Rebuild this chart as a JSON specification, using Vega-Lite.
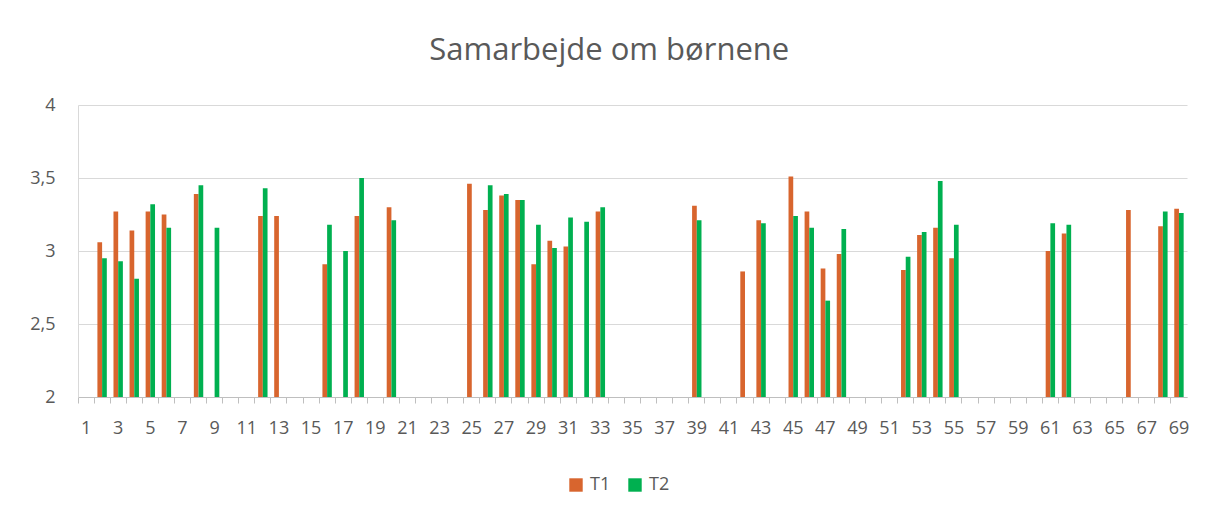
{
  "$schema": "https://vega.github.io/schema/vega-lite/v6.json",
  "width": 1109,
  "height": 292,
  "padding": {"left": 29, "top": 35, "right": 10, "bottom": 10},
  "background": "white",
  "title": {
    "text": "Samarbejde om børnene",
    "font": "Open Sans",
    "fontSize": 31,
    "fontWeight": "normal",
    "color": "#595959",
    "anchor": "middle",
    "frame": "bounds",
    "offset": 29
  },
  "data": {
    "values": [
      {"cat": 2, "series": "T1", "value": 3.06},
      {"cat": 3, "series": "T1", "value": 3.27},
      {"cat": 4, "series": "T1", "value": 3.14},
      {"cat": 5, "series": "T1", "value": 3.27},
      {"cat": 6, "series": "T1", "value": 3.25},
      {"cat": 8, "series": "T1", "value": 3.39},
      {"cat": 12, "series": "T1", "value": 3.24},
      {"cat": 13, "series": "T1", "value": 3.24},
      {"cat": 16, "series": "T1", "value": 2.91},
      {"cat": 18, "series": "T1", "value": 3.24},
      {"cat": 20, "series": "T1", "value": 3.3},
      {"cat": 25, "series": "T1", "value": 3.46},
      {"cat": 26, "series": "T1", "value": 3.28},
      {"cat": 27, "series": "T1", "value": 3.38},
      {"cat": 28, "series": "T1", "value": 3.35},
      {"cat": 29, "series": "T1", "value": 2.91},
      {"cat": 30, "series": "T1", "value": 3.07},
      {"cat": 31, "series": "T1", "value": 3.03},
      {"cat": 33, "series": "T1", "value": 3.27},
      {"cat": 39, "series": "T1", "value": 3.31},
      {"cat": 42, "series": "T1", "value": 2.86},
      {"cat": 43, "series": "T1", "value": 3.21},
      {"cat": 45, "series": "T1", "value": 3.51},
      {"cat": 46, "series": "T1", "value": 3.27},
      {"cat": 47, "series": "T1", "value": 2.88},
      {"cat": 48, "series": "T1", "value": 2.98},
      {"cat": 52, "series": "T1", "value": 2.87},
      {"cat": 53, "series": "T1", "value": 3.11},
      {"cat": 54, "series": "T1", "value": 3.16},
      {"cat": 55, "series": "T1", "value": 2.95},
      {"cat": 61, "series": "T1", "value": 3.0},
      {"cat": 62, "series": "T1", "value": 3.12},
      {"cat": 66, "series": "T1", "value": 3.28},
      {"cat": 68, "series": "T1", "value": 3.17},
      {"cat": 69, "series": "T1", "value": 3.29},
      {"cat": 2, "series": "T2", "value": 2.95},
      {"cat": 3, "series": "T2", "value": 2.93},
      {"cat": 4, "series": "T2", "value": 2.81},
      {"cat": 5, "series": "T2", "value": 3.32},
      {"cat": 6, "series": "T2", "value": 3.16},
      {"cat": 8, "series": "T2", "value": 3.45},
      {"cat": 9, "series": "T2", "value": 3.16},
      {"cat": 12, "series": "T2", "value": 3.43},
      {"cat": 16, "series": "T2", "value": 3.18},
      {"cat": 17, "series": "T2", "value": 3.0},
      {"cat": 18, "series": "T2", "value": 3.5},
      {"cat": 20, "series": "T2", "value": 3.21},
      {"cat": 26, "series": "T2", "value": 3.45},
      {"cat": 27, "series": "T2", "value": 3.39},
      {"cat": 28, "series": "T2", "value": 3.35},
      {"cat": 29, "series": "T2", "value": 3.18},
      {"cat": 30, "series": "T2", "value": 3.02},
      {"cat": 31, "series": "T2", "value": 3.23},
      {"cat": 32, "series": "T2", "value": 3.2},
      {"cat": 33, "series": "T2", "value": 3.3},
      {"cat": 39, "series": "T2", "value": 3.21},
      {"cat": 43, "series": "T2", "value": 3.19},
      {"cat": 45, "series": "T2", "value": 3.24},
      {"cat": 46, "series": "T2", "value": 3.16},
      {"cat": 47, "series": "T2", "value": 2.66},
      {"cat": 48, "series": "T2", "value": 3.15},
      {"cat": 52, "series": "T2", "value": 2.96},
      {"cat": 53, "series": "T2", "value": 3.13},
      {"cat": 54, "series": "T2", "value": 3.48},
      {"cat": 55, "series": "T2", "value": 3.18},
      {"cat": 61, "series": "T2", "value": 3.19},
      {"cat": 62, "series": "T2", "value": 3.18},
      {"cat": 68, "series": "T2", "value": 3.27},
      {"cat": 69, "series": "T2", "value": 3.26}
    ]
  },
  "mark": {"type": "bar", "strokeWidth": 0},
  "encoding": {
    "x": {
      "field": "cat",
      "type": "ordinal",
      "title": null,
      "scale": {
        "domain": [1,2,3,4,5,6,7,8,9,10,11,12,13,14,15,16,17,18,19,20,21,22,23,24,25,26,27,28,29,30,31,32,33,34,35,36,37,38,39,40,41,42,43,44,45,46,47,48,49,50,51,52,53,54,55,56,57,58,59,60,61,62,63,64,65,66,67,68,69],
        "paddingInner": 0,
        "paddingOuter": 0
      },
      "axis": {
        "labelAngle": 0,
        "bandPosition": 0,
        "labelOverlap": false,
        "labelExpr": "datum.value % 2 == 1 ? datum.label : ''",
        "tickSize": 6,
        "tickColor": "#bfbfbf",
        "domainColor": "#bfbfbf",
        "labelPadding": 16,
        "labelFontSize": 18,
        "grid": false
      }
    },
    "xOffset": {
      "field": "series",
      "type": "nominal",
      "scale": {"domain": ["T1", "T2"], "paddingInner": 0, "paddingOuter": 0.71}
    },
    "y": {
      "field": "value",
      "type": "quantitative",
      "title": null,
      "scale": {"domain": [2, 4], "zero": false, "nice": false},
      "axis": {
        "values": [2, 2.5, 3, 3.5, 4],
        "labelExpr": "replace(format(datum.value, '.1~f'), '.', ',')",
        "grid": true,
        "gridColor": "#d9d9d9",
        "domain": true,
        "domainColor": "#d9d9d9",
        "ticks": false,
        "labelPadding": 23,
        "labelFontSize": 18
      }
    },
    "y2": {"datum": 2},
    "color": {
      "field": "series",
      "type": "nominal",
      "title": null,
      "scale": {"domain": ["T1", "T2"], "range": ["#D8652E", "#00B050"]},
      "legend": {
        "orient": "none",
        "legendX": 489,
        "legendY": 371,
        "direction": "horizontal",
        "symbolType": "square",
        "symbolSize": 180,
        "symbolStrokeWidth": 0,
        "labelFontSize": 18,
        "labelColor": "#595959",
        "labelFont": "Open Sans",
        "columnPadding": 15,
        "labelOffset": 5
      }
    }
  },
  "config": {
    "view": {"stroke": null},
    "axis": {"labelFont": "Open Sans", "labelColor": "#595959"}
  }
}
